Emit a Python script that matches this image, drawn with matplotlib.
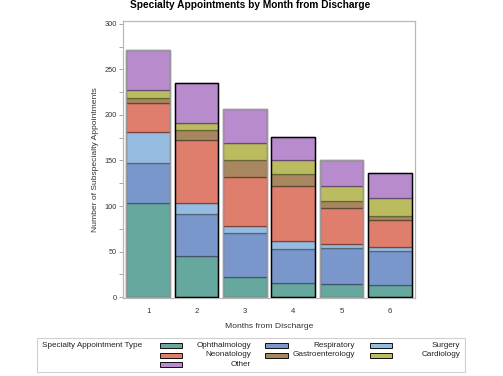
import matplotlib
matplotlib.use("Agg")
import matplotlib.pyplot as plt
from matplotlib.patches import Rectangle
import matplotlib.colors as mcolors
import numpy as np

plt.rcParams['font.family'] = ['Liberation Sans', 'DejaVu Sans']

months = [1, 2, 3, 4, 5, 6]
categories = ["Ophthalmology", "Respiratory", "Surgery", "Neonatology",
              "Gastroenterology", "Cardiology", "Other"]
ophthalmology = [103, 45, 22, 16, 15, 13]
respiratory = [44, 46, 49, 37, 39, 38]
surgery = [34, 12, 7, 9, 4, 4]
neonatology = [32, 70, 54, 60, 40, 30]
gastroenterology = [6, 10, 19, 13, 8, 4]
cardiology = [8, 8, 18, 15, 16, 20]
other = [44, 44, 37, 26, 28, 27]
series = [ophthalmology, respiratory, surgery, neonatology,
          gastroenterology, cardiology, other]
colors = ["#66A89E", "#7A97CC", "#96BBE0", "#E07E6E", "#A8865F", "#BBBC5F", "#B78BCC"]

W, H = 503, 376
fig = plt.figure(figsize=(W / 100, H / 100), dpi=100)
ax = fig.add_axes([123 / W, 1 - 298 / H, 292 / W, (298 - 20.7) / H])

def darker(c, f=0.55):
    r, g, b = mcolors.to_rgb(c)
    return (r * f, g * f, b * f)

bottom = np.zeros(len(months))
for vals, col in zip(series, colors):
    ax.bar(months, vals, width=0.9, bottom=bottom, color=col,
           edgecolor=darker(col), linewidth=0.9, zorder=2)
    bottom += np.array(vals)

# outer bar outlines
for i, (m, tot) in enumerate(zip(months, bottom)):
    ec = "#9a9a9a" if i % 2 == 0 else "#000000"
    ax.bar([m], [tot], width=0.9, color="none", edgecolor=ec, linewidth=1.0, zorder=3)

ax.set_xlim(0.48, 6.52)
ax.set_ylim(-0.8, 303.3)
ax.set_xticks(months)
ax.set_xticklabels([str(m) for m in months])
ax.set_yticks(np.arange(0, 301, 50))
ax.set_yticks(np.arange(0, 301, 25), minor=True)
ax.tick_params(axis='x', length=0, labelsize=5.6, pad=7, colors="#333333")
ax.tick_params(axis='y', which='both', length=3, width=0.6, color="#999999",
               labelsize=5.3, labelcolor="#333333", pad=1.5)
for s in ax.spines.values():
    s.set_color("#b8b8b8")
    s.set_linewidth(0.9)

ax.set_xlabel("Months from Discharge", fontsize=6.1, color="#333333", labelpad=6)
ax.set_ylabel("Number of Subspecialty Appointments", fontsize=6.1, color="#333333", labelpad=4)

fig.text(250 / W, 1 - 5 / H, "Specialty Appointments by Month from Discharge",
         ha="center", va="center", fontsize=7.3, fontweight="bold")

# Legend (drawn in figure pixel coordinates)
def fx(x):
    return x / W

def fy(y):
    return 1 - y / H

fig.patches.append(Rectangle((fx(37), fy(372)), (465 - 37) / W, (372 - 337.5) / H,
                             transform=fig.transFigure, facecolor="white",
                             edgecolor="#d0d0d0", linewidth=0.8))
fig.text(fx(42), fy(345.7), "Specialty Appointment Type", ha="left", va="center",
         fontsize=5.9, color="#222222")

sw_x = [159.5, 265, 369.5]
txt_right = [251, 355, 460]
row_y = [345.8, 355.0, 364.5]
for k, (cat, col) in enumerate(zip(categories, colors)):
    r, c = divmod(k, 3)
    yc = row_y[r]
    fig.patches.append(Rectangle((fx(sw_x[c]), fy(yc + 2.5)), 22.5 / W, 5 / H,
                                 transform=fig.transFigure, facecolor=col,
                                 edgecolor="#111111", linewidth=0.7))
    fig.text(fx(txt_right[c]), fy(yc), cat, ha="right", va="center",
             fontsize=5.9, color="#222222")

fig.savefig("out.png", dpi=100)
